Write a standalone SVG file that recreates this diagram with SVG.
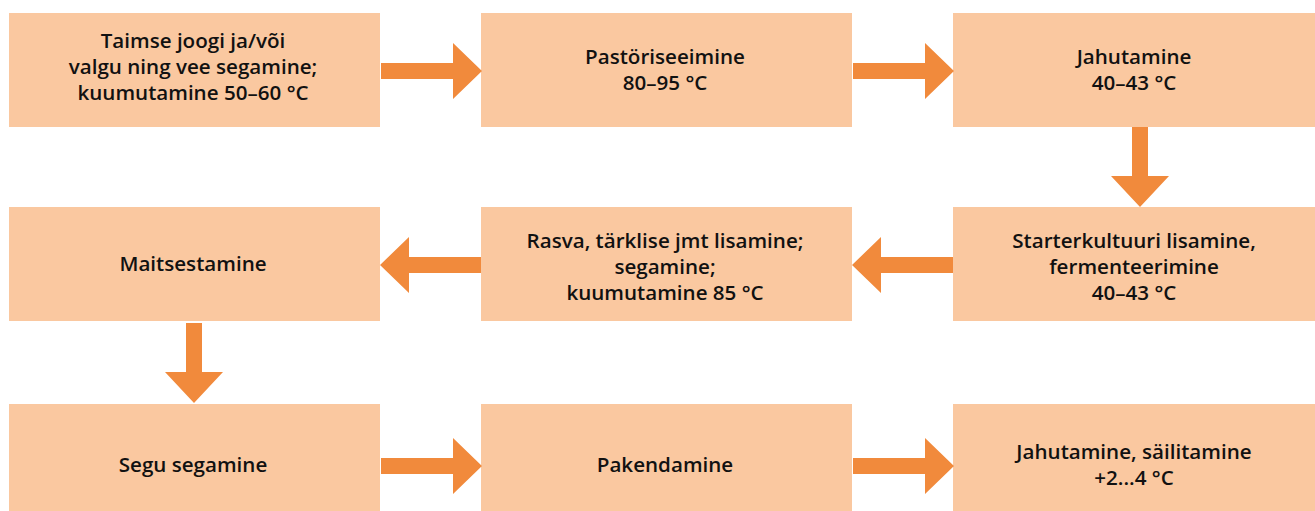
<svg xmlns="http://www.w3.org/2000/svg" width="1315" height="511" viewBox="0 0 1315 511">
  <defs>
    <style>
      .box { fill: #FAC8A0; }
      .arrow { fill: #F18A3C; }
      .label { font-family: "Open Sans", "Noto Sans", "Liberation Sans", sans-serif; font-size: 20.6px; font-weight: 600; fill: #111111; text-anchor: middle; }
    </style>
    <!-- block arrow pointing right, tip at origin, centred on y=0 -->
    <path id="arrowR" d="M-101,-8 H-29 V-28 L0,0 L-29,28 V8 H-101 Z"/>
    <!-- block arrow pointing down, tip at origin, centred on x=0 -->
    <path id="arrowD" d="M-8,-80 H8 V-31 H29 L0,0 L-29,-31 H-8 Z"/>
  </defs>
  <rect width="1315" height="511" fill="#ffffff"/>

  <!-- row 1 -->
  <g id="n1">
    <rect class="box" x="9" y="13" width="371" height="114"/>
    <text class="label" x="193" y="48">Taimse joogi ja/või</text>
    <text class="label" x="193" y="74">valgu ning vee segamine;</text>
    <text class="label" x="193" y="100">kuumutamine 50–60 °C</text>
  </g>
  <g id="n2">
    <rect class="box" x="481" y="13" width="371" height="114"/>
    <text class="label" x="665" y="64">Pastöriseeimine</text>
    <text class="label" x="665" y="90">80–95 °C</text>
  </g>
  <g id="n3">
    <rect class="box" x="953" y="13" width="362" height="114"/>
    <text class="label" x="1134" y="64">Jahutamine</text>
    <text class="label" x="1134" y="90">40–43 °C</text>
  </g>

  <!-- row 2 -->
  <g id="n4">
    <rect class="box" x="953" y="207" width="362" height="114"/>
    <text class="label" x="1134" y="248">Starterkultuuri lisamine,</text>
    <text class="label" x="1134" y="274">fermenteerimine</text>
    <text class="label" x="1134" y="300">40–43 °C</text>
  </g>
  <g id="n5">
    <rect class="box" x="481" y="207" width="371" height="114"/>
    <text class="label" x="665" y="248">Rasva, tärklise jmt lisamine;</text>
    <text class="label" x="665" y="274">segamine;</text>
    <text class="label" x="665" y="300">kuumutamine 85 °C</text>
  </g>
  <g id="n6">
    <rect class="box" x="9" y="207" width="371" height="114"/>
    <text class="label" x="193" y="271">Maitsestamine</text>
  </g>

  <!-- row 3 -->
  <g id="n7">
    <rect class="box" x="9" y="404" width="371" height="114"/>
    <text class="label" x="193" y="472">Segu segamine</text>
  </g>
  <g id="n8">
    <rect class="box" x="481" y="404" width="371" height="114"/>
    <text class="label" x="665" y="472">Pakendamine</text>
  </g>
  <g id="n9">
    <rect class="box" x="953" y="404" width="362" height="114"/>
    <text class="label" x="1134" y="459">Jahutamine, säilitamine</text>
    <text class="label" x="1134" y="485">+2...4 °C</text>
  </g>

  <!-- connectors -->
  <g id="connectors" class="arrow">
    <use href="#arrowR" transform="translate(482,71)"/>
    <use href="#arrowR" transform="translate(954,71)"/>
    <use href="#arrowD" transform="translate(1140,207)"/>
    <use href="#arrowR" transform="translate(852,265) scale(-1,1)"/>
    <use href="#arrowR" transform="translate(380,265) scale(-1,1)"/>
    <use href="#arrowD" transform="translate(194,403)"/>
    <use href="#arrowR" transform="translate(482,466)"/>
    <use href="#arrowR" transform="translate(954,466)"/>
  </g>
</svg>
